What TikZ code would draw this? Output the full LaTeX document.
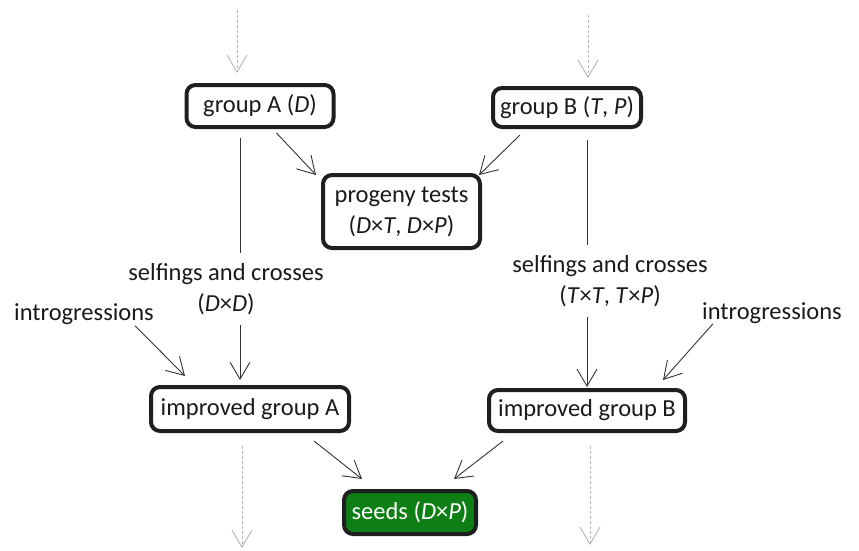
\documentclass[tikz,border=0pt]{standalone}
\usepackage{fontspec}
\setmainfont{Carlito}
\usetikzlibrary{arrows.meta,calc}
\definecolor{seedgreen}{HTML}{0E7F15}
\definecolor{txt}{HTML}{1A1A1A}
\definecolor{arrowgray}{HTML}{333333}
\definecolor{dashgray}{HTML}{B5B5B5}
\begin{document}
\begin{tikzpicture}[x=1pt,y=-1pt,
  every node/.style={font=\fontsize{24.5}{31}\selectfont, text=txt},
  box/.style={draw=black!88, line width=4pt, rounded corners=9pt, fill=white, inner sep=0pt, align=center},
  lbl/.style={align=center, inner xsep=0pt, inner ysep=10pt},
  arr/.style={draw=arrowgray, line width=0.9pt, -{Straight Barb[length=17pt,width=20pt,line width=0.9pt]}},
  plain/.style={draw=arrowgray, line width=0.9pt},
  dasharr/.style={draw=dashgray, line width=1pt, dash pattern=on 3pt off 2pt, -{Straight Barb[length=17pt,width=20pt,line width=0.9pt,sep=0pt]}}
]
\useasboundingbox (0,0) rectangle (859,550);

% nodes
\node[box, minimum width=147pt, minimum height=42pt] (A) at (260,106) {group A (\textit{D})};
\node[box, minimum width=148pt, minimum height=39pt] (B) at (567,107.5) {group B (\textit{T}, \textit{P})};
\node[box, minimum width=157pt, minimum height=73pt] (prog) at (401.5,211.5) {progeny tests\\(\textit{D}×\textit{T}, \textit{D}×\textit{P})};
\node[box, minimum width=198pt, minimum height=44pt] (impA) at (250,409) {improved group A};
\node[box, minimum width=196pt, minimum height=41pt] (impB) at (587,410.5) {improved group B};
\node[box, fill=seedgreen, text=white, minimum width=132pt, minimum height=43pt] (seeds) at (410,512.5) {seeds (\textit{D}×\textit{P})};

\node[lbl] (lA) at (226,289) {selfings and crosses\\(\textit{D}×\textit{D})};
\node[lbl] (lB) at (610,281) {selfings and crosses\\(\textit{T}×\textit{T}, \textit{T}×\textit{P})};
\node[inner sep=0pt] (intA) at (84,314) {introgressions};
\node[inner sep=0pt] (intB) at (772,313) {introgressions};

% x position of the left vertical connector
\coordinate (xA) at (240,0);

% free ends of the dashed arrows
\coordinate (topA) at (237,10);
\coordinate (topB) at (588,15);
\coordinate (botA) at (242,548);
\coordinate (botB) at (590,545);

% dashed arrows
\draw[dasharr] (topA) -- ($(A.north -| topA)+(0,-10)$);
\draw[dasharr] (topB) -- ($(B.north -| topB)+(0,-8)$);
\draw[dasharr] ($(impA.south -| botA)+(0,13)$) -- (botA);
\draw[dasharr] ($(impB.south -| botB)+(0,13)$) -- (botB);

% to progeny tests
\draw[arr] ($(A.south east)+(-59,4)$) -- ($(prog.north west)+(-5,2)$);
\draw[arr] ($(B.south west)+(29,6)$) -- ($(prog.north east)+(-3,2)$);

% selfings and crosses
\draw[plain] ($(A.south -| xA)+(0,9)$) -- (lA.north -| xA);
\draw[arr] (lA.south -| xA) -- ($(impA.north -| xA)+(0,-5)$);
\draw[plain] ($(B.south -| impB.north)+(0,11)$) -- (lB.north -| impB.north);
\draw[arr] (lB.south -| impB.north) -- ($(impB.north)+(0,-1)$);

% introgressions
\draw[arr] ($(intA.south east)+(-19,1)$) -- ($(impA.north west)+(36,-9)$);
\draw[arr] ($(intB.south west)+(11,0)$) -- ($(impB.north east)+(-24,-8)$);

% to seeds
\draw[arr] ($(impA.south east)+(-37,8)$) -- ($(seeds.north west)+(20,-10)$);
\draw[arr] ($(impB.south west)+(16,8)$) -- ($(seeds.north east)+(-24,-10)$);
\end{tikzpicture}
\end{document}
